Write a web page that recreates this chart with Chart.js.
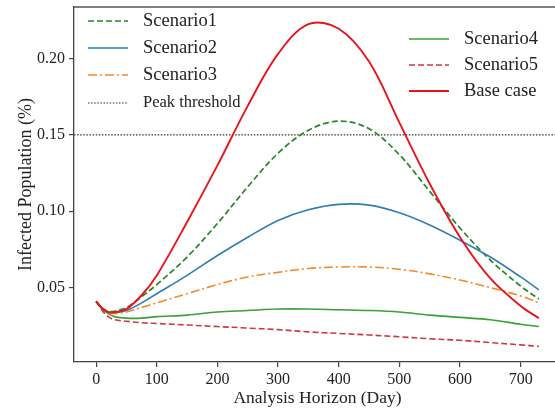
<!DOCTYPE html>
<html>
<head>
<meta charset="utf-8">
<script src="https://cdn.jsdelivr.net/npm/chart.js@4/dist/chart.umd.min.js"></script>
<style>
  html, body { margin: 0; padding: 0; background: #fff; overflow: hidden; }
  canvas { display: block; }
</style>
</head>
<body>
<canvas id="myChart" width="565" height="409"></canvas>
<script>
  // days of the analysis horizon where each curve was sampled
  var days = [0, 10, 20, 30, 50, 75, 100, 150, 200, 250, 300, 350, 400, 450, 500, 550, 600, 650, 700, 730];

  var scenario1 = [0.041, 0.0365, 0.0345, 0.0345, 0.037, 0.044, 0.052, 0.070, 0.092, 0.116, 0.138, 0.153, 0.159, 0.154, 0.137, 0.113, 0.089, 0.068, 0.051, 0.0425];
  var scenario2 = [0.041, 0.0365, 0.034, 0.0335, 0.035, 0.040, 0.046, 0.058, 0.071, 0.083, 0.094, 0.101, 0.1045, 0.104, 0.099, 0.091, 0.081, 0.070, 0.057, 0.0485];
  var scenario3 = [0.041, 0.0365, 0.034, 0.033, 0.034, 0.037, 0.040, 0.046, 0.052, 0.057, 0.060, 0.0625, 0.0635, 0.0635, 0.062, 0.059, 0.055, 0.050, 0.0445, 0.040];
  var scenario4 = [0.041, 0.036, 0.033, 0.031, 0.030, 0.030, 0.031, 0.032, 0.034, 0.035, 0.036, 0.036, 0.0355, 0.035, 0.034, 0.032, 0.0305, 0.029, 0.026, 0.0245];
  var scenario5 = [0.041, 0.035, 0.031, 0.029, 0.028, 0.027, 0.0265, 0.0255, 0.0245, 0.0235, 0.0225, 0.021, 0.020, 0.019, 0.0178, 0.0165, 0.0155, 0.014, 0.0125, 0.0115];
  var baseCase  = [0.041, 0.0365, 0.034, 0.0338, 0.036, 0.045, 0.058, 0.093, 0.130, 0.169, 0.203, 0.2225, 0.2195, 0.198, 0.158, 0.118, 0.083, 0.056, 0.038, 0.030];

  var peakThreshold = 0.15;

  var xTicks = [0, 100, 200, 300, 400, 500, 600, 700];
  var yTicks = [0.05, 0.10, 0.15, 0.20];

  var xMin = -36.5, xMax = 766.5;
  var yMin = 0.0013, yMax = 0.2337;

  var serif = 'Liberation Serif';
  var inkColor = '#222';

  function pts(vals) {
    return days.map(function (d, i) { return { x: d, y: vals[i] }; });
  }

  // two column legend drawn inside the plot
  var legendRows = [
    { ds: 0, x: 88, y: 21, size: 18.5 },
    { ds: 1, x: 88, y: 48, size: 18.5 },
    { ds: 2, x: 88, y: 75, size: 18.5 },
    { ds: 6, x: 88, y: 103, size: 16.5 },
    { ds: 3, x: 409, y: 39, size: 18.5 },
    { ds: 4, x: 409, y: 65, size: 18.5 },
    { ds: 5, x: 409, y: 91, size: 18.5 }
  ];

  var boxLegend = {
    id: 'boxLegend',
    afterDraw: function (chart) {
      var ctx = chart.ctx;
      var area = chart.chartArea;
      ctx.save();
      // top frame line (right side falls outside the page)
      ctx.strokeStyle = '#555';
      ctx.lineWidth = 1.3;
      ctx.beginPath();
      ctx.moveTo(area.left, area.top);
      ctx.lineTo(area.right, area.top);
      ctx.lineTo(area.right, area.bottom);
      ctx.stroke();

      legendRows.forEach(function (row) {
        var ds = chart.data.datasets[row.ds];
        ctx.strokeStyle = ds.borderColor;
        ctx.lineWidth = ds.borderWidth;
        ctx.setLineDash(ds.borderDash || []);
        ctx.beginPath();
        ctx.moveTo(row.x, row.y);
        ctx.lineTo(row.x + 40, row.y);
        ctx.stroke();
        ctx.setLineDash([]);
        ctx.fillStyle = inkColor;
        ctx.font = row.size + 'px "' + serif + '"';
        ctx.textBaseline = 'middle';
        ctx.fillText(ds.label, row.x + 55, row.y);
      });
      ctx.restore();
    }
  };

  function noPad(s) {
    s.paddingTop = 0; s.paddingBottom = 0; s.paddingLeft = 0; s.paddingRight = 0;
  }

  var ctx = document.getElementById('myChart').getContext('2d');
  var chart = new Chart(ctx, {
    type: 'line',
    data: {
      datasets: [
        { label: 'Scenario1', data: pts(scenario1), borderColor: '#24862a', borderWidth: 1.7, borderDash: [6, 3], order: 5 },
        { label: 'Scenario2', data: pts(scenario2), borderColor: '#2f7db5', borderWidth: 1.6, order: 4 },
        { label: 'Scenario3', data: pts(scenario3), borderColor: '#f4892a', borderWidth: 1.6, borderDash: [9, 3, 2, 3], order: 3 },
        { label: 'Scenario4', data: pts(scenario4), borderColor: '#3aa03a', borderWidth: 1.6, order: 2 },
        { label: 'Scenario5', data: pts(scenario5), borderColor: '#cf3646', borderWidth: 1.6, borderDash: [6, 3], order: 1 },
        { label: 'Base case', data: pts(baseCase), borderColor: '#e8141c', borderWidth: 1.9, order: 0 },
        { label: 'Peak threshold', data: [{ x: xMin, y: peakThreshold }, { x: xMax, y: peakThreshold }],
          borderColor: '#333', borderWidth: 1.1, borderDash: [1.5, 1.6], order: 6, tension: 0 }
      ]
    },
    options: {
      responsive: false,
      animation: false,
      devicePixelRatio: 1,
      layout: { padding: { top: 7, right: 4, left: 0, bottom: 0 } },
      plugins: { legend: { display: false }, tooltip: { enabled: false } },
      elements: { point: { radius: 0 }, line: { tension: 0.35, fill: false } },
      scales: {
        x: {
          type: 'linear', min: xMin, max: xMax,
          afterBuildTicks: function (s) { s.ticks = xTicks.map(function (v) { return { value: v }; }); },
          afterFit: function (s) { s.height = 47; noPad(s); },
          grid: { drawOnChartArea: false, drawTicks: true, tickLength: 5, color: '#444', lineWidth: 1.2 },
          border: { display: true, color: '#444', width: 1.3 },
          ticks: { font: { family: serif, size: 16 }, color: inkColor, padding: 3, maxRotation: 0,
                   callback: function (v) { return v; } },
          title: { display: true, text: 'Analysis Horizon (Day)', font: { family: serif, size: 17.5 },
                   color: inkColor, padding: { top: 0, bottom: 0 } }
        },
        y: {
          type: 'linear', min: yMin, max: yMax,
          afterBuildTicks: function (s) { s.ticks = yTicks.map(function (v) { return { value: v }; }); },
          afterFit: function (s) { s.width = 74; noPad(s); },
          grid: { drawOnChartArea: false, drawTicks: true, tickLength: 5, color: '#444', lineWidth: 1.2 },
          border: { display: true, color: '#444', width: 1.3 },
          ticks: { font: { family: serif, size: 16 }, color: inkColor, padding: 4,
                   callback: function (v) { return v.toFixed(2); } },
          title: { display: true, text: 'Infected Population (%)', font: { family: serif, size: 18 },
                   color: inkColor, padding: { top: 15, bottom: 0 } }
        }
      }
    },
    plugins: [boxLegend]
  });
</script>
</body>
</html>
